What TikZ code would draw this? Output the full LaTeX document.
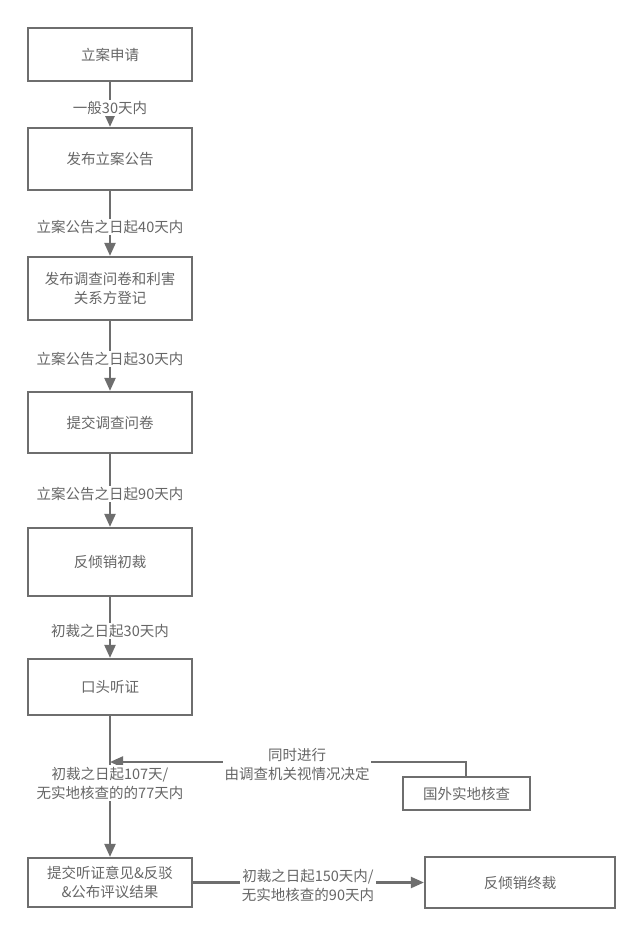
\documentclass[tikz,border=0pt]{standalone}
\usepackage{fontspec}
\setmainfont{Noto Sans CJK SC}
\usetikzlibrary{arrows.meta}
\definecolor{lc}{HTML}{6E6E6E}
\definecolor{tc}{HTML}{666666}
\tikzset{
  box/.style={draw=lc, line width=2.2pt, fill=white, minimum width=164pt, text=tc, align=center, inner sep=2pt,
    font=\fontsize{14.5}{19}\selectfont},
  lbl/.style={fill=white, text=tc, align=center, inner sep=1.5pt, font=\fontsize{14.5}{19}\selectfont},
  arr/.style={draw=lc, line width=2.2pt, -{Triangle[length=13pt,width=11pt]}},
  ln/.style={draw=lc, line width=2.2pt}
}
\begin{document}
\begin{tikzpicture}[x=1pt,y=-1pt]
\useasboundingbox[fill=white] (0,0) rectangle (643,936);
\node[box, minimum height=53pt] (b1) at (110,54.5) {立案申请};
\node[box, minimum height=62pt] (b2) at (110,159) {发布立案公告};
\node[box, minimum height=63pt] (b3) at (110,288.5) {发布调查问卷和利害\\关系方登记};
\node[box, minimum height=61pt] (b4) at (110,422.5) {提交调查问卷};
\node[box, minimum height=68pt] (b5) at (110,562) {反倾销初裁};
\node[box, minimum height=56pt] (b6) at (110,687) {口头听证};
\node[box, minimum height=49pt] (b7) at (110,882.5) {提交听证意见\&反驳\\\&公布评议结果};
\node[box, minimum height=51pt, minimum width=190pt] (b8) at (520,882.5) {反倾销终裁};
\node[box, minimum height=33pt, minimum width=127pt] (b9) at (466.5,793.5) {国外实地核查};
\coordinate (j) at (110,762);
\coordinate (k) at (466,762);

\draw[arr] (b1) -- (b2);
\draw[arr] (b2) -- (b3);
\draw[arr] (b3) -- (b4);
\draw[arr] (b4) -- (b5);
\draw[arr] (b5) -- (b6);
\draw[arr] (b6) -- (b7);
\draw[arr] (b7) -- (b8);
\draw[arr] (b9.north -| k) -- (k) -- (j);

\node[lbl] (l1) at (110,108) {一般30天内};
\node[lbl] (l2) at (110,227) {立案公告之日起40天内};
\node[lbl] (l3) at (110,359) {立案公告之日起30天内};
\node[lbl] (l4) at (110,494) {立案公告之日起90天内};
\node[lbl] (l5) at (110,631) {初裁之日起30天内};
\node[lbl] (l6) at (110,783) {初裁之日起107天/\\无实地核查的的77天内};
\node[lbl] (l7) at (308,885) {初裁之日起150天内/\\无实地核查的90天内};
\node[lbl] (l8) at (297,764) {同时进行\\由调查机关视情况决定};
\end{tikzpicture}
\end{document}
